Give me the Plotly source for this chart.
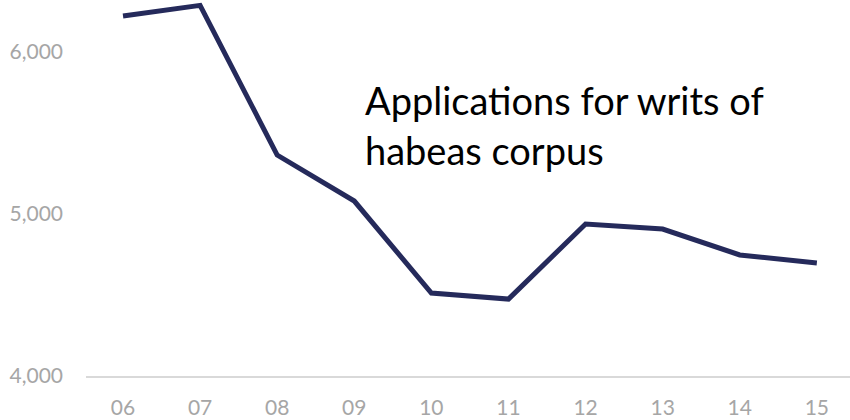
import plotly.graph_objects as go

# Applications for writs of habeas corpus, by year
years = ["06", "07", "08", "09", "10", "11", "12", "13", "14", "15"]
applications = [6222, 6288, 5364, 5080, 4512, 4475, 4938, 4907, 4747, 4698]
y_ticks = [4000, 5000, 6000]

fig = go.Figure()
fig.add_trace(go.Scatter(
    x=list(range(len(years))),
    y=applications,
    mode="lines",
    line=dict(color="#252a5b", width=5),
    hoverinfo="skip",
))

fig.update_layout(
    width=850,
    height=420,
    margin=dict(l=86, r=0, t=0, b=44),
    paper_bgcolor="white",
    plot_bgcolor="white",
    showlegend=False,
    font=dict(family="Lato, Open Sans, sans-serif", color="#a6a6a6", size=21),
)
fig.update_xaxes(
    tickmode="array",
    tickvals=list(range(len(years))),
    ticktext=years,
    range=[-0.48, 9.43],
    showgrid=False,
    zeroline=False,
    showline=True,
    linecolor="#d9d9d9",
    linewidth=2,
    ticklabelstandoff=12,
    automargin=False,
)
fig.update_yaxes(
    tickvals=y_ticks,
    tickformat=",d",
    range=[4000, 6321],
    showgrid=False,
    zeroline=False,
    showline=False,
    ticklabelstandoff=22,
    automargin=False,
)

# label written inside the chart, two lines
for line_text, centre_px in [("Applications for writs of", 100), ("habeas corpus", 150)]:
    fig.add_annotation(
        text=line_text,
        xref="paper", yref="paper",
        x=(363 - 86) / 764, y=1 - centre_px / 376,
        xanchor="left", yanchor="middle",
        showarrow=False,
        font=dict(size=38, color="black"),
    )

fig.write_html(
    "out.html",
    config={"displayModeBar": False},
    post_script="document.body.style.margin='0';document.body.style.overflow='hidden';",
)
